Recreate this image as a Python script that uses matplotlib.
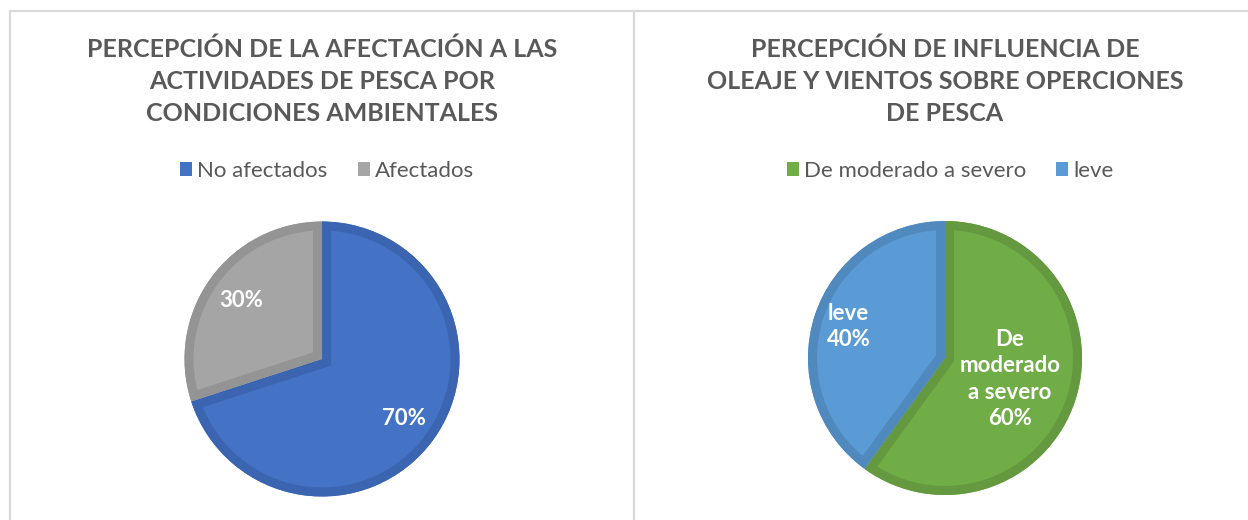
import matplotlib
matplotlib.use("Agg")
import matplotlib.pyplot as plt
from matplotlib.patches import Patch, Wedge
from matplotlib.lines import Line2D
import numpy as np

plt.rcParams['font.family'] = ['Lato', 'DejaVu Sans']

# Chart 1: effect of environmental conditions on fishing
title1 = "PERCEPCIÓN DE LA AFECTACIÓN A LAS\nACTIVIDADES DE PESCA POR\nCONDICIONES AMBIENTALES"
cats1 = ["No afectados", "Afectados"]
vals1 = [70, 30]
lbls1 = ["70%", "30%"]

# Chart 2: influence of waves and wind on fishing operations
title2 = "PERCEPCIÓN DE INFLUENCIA DE\nOLEAJE Y VIENTOS SOBRE OPERCIONES\nDE PESCA"
cats2 = ["De moderado a severo", "leve"]
vals2 = [60, 40]
lbls2 = ["De\nmoderado\na severo\n60%", "leve\n40%"]

W, H = 1248, 520
fig = plt.figure(figsize=(W / 100, H / 100), dpi=100)
fig.patch.set_facecolor("white")

# panel frame lines
frame_c = "#d9d9d9"
fig.add_artist(Line2D([10 / W, 1], [1 - 10.5 / H, 1 - 10.5 / H], color=frame_c, lw=1.6))
fig.add_artist(Line2D([10 / W, 10 / W], [0, 1 - 10.5 / H], color=frame_c, lw=1.6))
fig.add_artist(Line2D([634 / W, 634 / W], [0, 1 - 10.5 / H], color=frame_c, lw=1.6))

TXT = "#595959"


def draw_panel(cx, cy, r, title, cats, vals, lbls, faces, edges, dists, leg_y):
    half = 160
    ax = fig.add_axes([(cx - half) / W, 1 - (cy + half) / H, 2 * half / W, 2 * half / H])
    wedges, _ = ax.pie(vals, startangle=90, counterclock=False, colors=faces,
                       radius=1, wedgeprops=dict(linewidth=0))
    lim = half / r
    ax.set_xlim(-lim, lim)
    ax.set_ylim(-lim, lim)
    ax.set_aspect("equal")
    ax.axis("off")

    # darker inner border for each slice
    for w, ec in zip(wedges, edges):
        bw = Wedge(w.center, w.r, w.theta1, w.theta2, facecolor="none",
                   edgecolor=ec, linewidth=13)
        ax.add_patch(bw)
        bw.set_clip_path(w)
    for w, lab, d in zip(wedges, lbls, dists):
        mid = np.deg2rad((w.theta1 + w.theta2) / 2)
        ax.text(d * np.cos(mid), d * np.sin(mid), lab, ha="center", va="center",
                color="white", fontsize=16, fontweight="bold", linespacing=1.32)

    fig.text(cx / W, 1 - 81 / H, title, ha="center", va="center", color=TXT,
             fontsize=18, fontweight="bold", linespacing=1.48)

    handles = [Patch(facecolor=f, edgecolor="none") for f in faces]
    fig.legend(handles, cats, loc="center", bbox_to_anchor=((cx + 5) / W, 1 - leg_y / H),
               ncol=len(cats), frameon=False, fontsize=16, labelcolor=TXT,
               handlelength=0.55, handleheight=0.55, handletextpad=0.22,
               columnspacing=1.35)


draw_panel(322, 359, 137.5, title1, cats1, vals1, lbls1,
           ["#4472C4", "#A5A5A5"], ["#3B65B1", "#949494"], [0.74, 0.73], 171)
draw_panel(945, 358, 137, title2, cats2, vals2, lbls2,
           ["#70AD47", "#5B9BD5"], ["#64993F", "#4F89BE"], [0.5, 0.74], 171)

fig.savefig("out.png", dpi=100, facecolor="white")
